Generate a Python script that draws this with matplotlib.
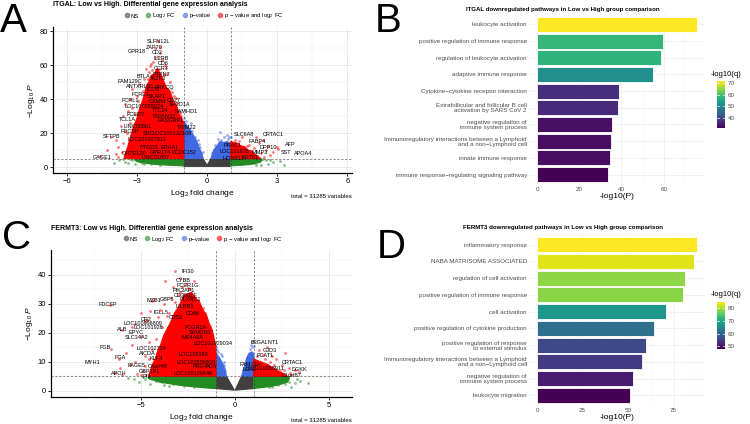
import matplotlib
matplotlib.use('Agg')
import matplotlib.pyplot as plt
from matplotlib.lines import Line2D
from matplotlib.colors import Normalize
from matplotlib.cm import ScalarMappable

plt.rcParams['font.family'] = ['Liberation Sans', 'DejaVu Sans']
plt.rcParams['mathtext.fontset'] = 'custom'
plt.rcParams['mathtext.rm'] = 'Liberation Sans'
plt.rcParams['mathtext.it'] = 'Liberation Sans:italic'
plt.rcParams['mathtext.default'] = 'regular'

NS_COL = '#404040'
FC_COL = '#228B22'
P_COL = '#4169E1'
BOTH_COL = '#FF0000'

# ---------------- ITGAL volcano (A) ----------------
# dense parts of the cloud, outlines (log2FC, -log10P)
itgal_gray = [(-1, 0.4), (1, 0.4), (1, 5), (0.16, 5), (0, 1), (-0.18, 5), (-1, 5)]
itgal_green_left = [(-1, 0.7), (-1.4, 0.9), (-1.8, 1.2), (-2.2, 1.5), (-2.6, 2.2), (-2.8, 2.6),
                    (-3.0, 3.2), (-3.1, 4.1), (-3.1, 5), (-1, 5)]
itgal_green_right = [(1, 0.7), (1.4, 1.0), (1.8, 1.4), (2.1, 2.2), (2.3, 3), (2.35, 4), (2.3, 5), (1, 5)]
itgal_blue_left = [(-1, 5), (-1, 27), (-0.9, 25), (-0.72, 22), (-0.6, 19), (-0.44, 15), (-0.33, 11),
                   (-0.22, 8), (-0.17, 5)]
itgal_blue_right = [(0.16, 5), (0.22, 7.5), (0.28, 10), (0.42, 12.5), (0.56, 15), (0.7, 14.5),
                    (0.85, 15), (1.0, 14), (1.0, 5)]
itgal_red_left = [(-1.0, 5), (-1.0, 26), (-1.1, 29), (-1.2, 31), (-1.3, 36), (-1.45, 39), (-1.6, 45),
                  (-1.75, 47), (-1.9, 52), (-2.0, 55), (-2.15, 58), (-2.25, 55), (-2.4, 54), (-2.5, 50),
                  (-2.6, 48), (-2.7, 42), (-2.8, 38), (-2.9, 34), (-3.0, 29), (-3.15, 24), (-3.3, 17),
                  (-3.4, 12), (-3.55, 6), (-3.55, 5)]
itgal_red_right = [(1.0, 5), (1.0, 15), (1.15, 14.5), (1.3, 14), (1.45, 12.5), (1.6, 12), (1.75, 10),
                   (1.9, 9.5), (2.0, 8), (2.1, 7), (2.3, 5)]

# single points outside the dense parts
itgal_red_pts = [(-2.1, 74), (-2.25, 70), (-2.0, 67), (-2.15, 65), (-1.95, 63), (-2.3, 62), (-1.8, 60),
                 (-2.5, 56), (-2.7, 52), (-2.9, 49), (-3.2, 46), (-3.0, 42), (-3.3, 40), (-3.5, 37),
                 (-3.4, 33), (-3.6, 30), (-3.2, 35), (-3.7, 24), (-3.5, 21), (-3.9, 16), (-4.1, 18),
                 (-3.8, 12), (-3.2, 12), (-3.4, 9), (-3.0, 8), (-4.6, 6.5), (-3.8, 6), (-1.6, 50),
                 (-1.4, 42), (-1.2, 33), (-1.1, 30), (-1.3, 38), (-2.6, 58), (-1.7, 55), (-2.4, 61),
                 (-1.15, 32), (-1.35, 40.5), (-1.5, 44), (-1.85, 54), (-2.05, 57.5), (-2.35, 57),
                 (-2.55, 52), (-2.75, 45), (-2.95, 39), (-3.1, 31), (-3.3, 26), (-3.45, 20),
                 (-3.6, 14), (-3.65, 9), (-3.9, 7.5), (-4.3, 10), (-2.0, 71), (-1.75, 58.5),
                 (-2.45, 59.5),
                 (1.5, 18), (2.1, 17.5), (2.4, 16), (2.2, 14), (2.6, 12.5), (2.5, 10), (3.05, 10.4),
                 (2.83, 8.8), (2.7, 7), (2.3, 8.5), (1.8, 13), (1.2, 16), (3.0, 11.8), (2.0, 11),
                 (1.35, 15.5), (1.7, 12.5), (2.15, 6.5), (2.45, 6)]
itgal_blue_pts = [(-1.0, 29), (-0.9, 27), (-0.7, 26), (-0.85, 22), (-0.5, 18), (-0.4, 16), (-0.3, 12),
                  (0.5, 15), (0.56, 20.6), (0.85, 19), (0.95, 18), (0.4, 12), (0.3, 10), (0.6, 16),
                  (-0.95, 24), (-0.65, 21), (-0.35, 13.5), (-0.2, 9), (0.2, 8), (0.35, 13),
                  (0.45, 16.5), (0.7, 17.5), (0.9, 16.5), (1.0, 18)]
itgal_green_pts = [(-3.76, 3.9), (-3.5, 3), (-3.3, 4.5), (-3.1, 2), (-2.9, 3.5), (-4.0, 2.5), (-2.7, 1.8),
                   (-3.2, 4.2), (-3.4, 2.3), (-2.8, 2.6), (-2.4, 1.6), (-2.0, 1.1), (-3.6, 4.6),
                   (2.5, 4), (2.8, 3), (3.12, 3.4), (2.6, 2), (2.3, 1.5), (3.3, 1),
                   (2.0, 2.2), (2.4, 4.6), (2.7, 4.2), (2.1, 1.2)]

itgal_genes = ['SLFN12L', 'ZAP70', 'GPR18', 'CD2', 'IL2RB', 'CD6', 'CCR7', 'BTLA', 'PTPN7', 'IKZF3',
               'FAM129C', 'ANTXRLP1', 'PRKCQ', 'ICOS', 'FCRL3', 'SKAP1', 'FCRL1', 'GZMM', 'CD27',
               'SH2D1A', 'LOC100288024', 'TTC24', 'SAMHD1', 'FCER2', 'TSPAN32', 'TCL1A', 'RASGRP1',
               'LINC00861', 'TRIM22', 'FDCSP', 'SRC', 'LOC100132108', 'SFTPB', 'LOC101927811',
               'PTGDS', 'EPHA1', 'OR7E12P', 'GAGE1', 'GPR174', 'CCDC152', 'LINC01857',
               'SLC6A8', 'CRTAC1', 'FABP4', 'DPP10', 'AFP', 'SST', 'APOA4', 'PRAC1', 'LOC101928',
               'MMP3', 'HOXB13', 'KRT81']
itgal_gene_fc = [-2.08, -2.26, -3.03, -2.15, -1.98, -1.9, -1.95, -2.75, -1.98, -2.1,
                 -3.32, -2.88, -1.85, -2.3, -2.85, -2.15, -3.29, -2.15, -1.45,
                 -1.17, -2.71, -2.0, -0.87, -3.08, -1.87, -3.43, -1.58,
                 -2.98, -0.87, -3.3, -2.5, -1.51, -4.1, -2.6,
                 -2.5, -1.6, -3.12, -4.5, -2.0, -1.0, -2.2,
                 1.58, 2.82, 2.15, 2.62, 3.55, 3.39, 4.1, 1.08, 1.15,
                 2.26, 1.12, 1.84]
itgal_gene_p = [74, 70.6, 68, 67.3, 64.1, 60.8, 58, 53.5, 54.5, 52,
                50.4, 47.5, 46.7, 45.5, 42.5, 41.5, 39.2, 38.8, 39,
                37, 35.7, 33.3, 33, 31, 30, 28, 27.5,
                24, 23.5, 20.8, 19.6, 19.6, 17.8, 16,
                11.8, 11.8, 7.8, 5.9, 8.5, 8.5, 5.5,
                19.4, 19.2, 15.1, 11.4, 13.4, 8.6, 8.2, 12.7, 8.9,
                8.4, 5.3, 5.9]

# ---------------- FERMT3 volcano (C) ----------------
fermt3_gray_left = [(-1, 0.8), (-0.02, 0.25), (-0.44, 5), (-1, 5)]
fermt3_gray_right = [(1, 0.8), (0.02, 0.25), (0.36, 5), (1, 5)]
fermt3_green_left = [(-1, 0.8), (-1.5, 1.0), (-2.0, 1.3), (-2.5, 1.6), (-3.0, 2.0), (-3.5, 2.5),
                     (-4.0, 3.0), (-4.3, 3.6), (-4.6, 4.2), (-4.6, 5), (-1, 5)]
fermt3_green_right = [(1, 0.8), (1.5, 1.2), (2.0, 1.6), (2.4, 2.2), (2.8, 3.0), (2.9, 4), (2.9, 5), (1, 5)]
fermt3_blue_left = [(-1, 5), (-1, 13), (-0.9, 12.2), (-0.8, 11.3), (-0.65, 9.5), (-0.53, 7.8), (-0.44, 5)]
fermt3_blue_right = [(0.36, 5), (0.45, 7), (0.53, 9), (0.62, 11), (0.71, 12.4), (0.9, 13.5), (1.0, 13),
                     (1.0, 5)]
fermt3_red_left = [(-1.0, 5), (-1.0, 15), (-1.1, 18), (-1.2, 21), (-1.35, 23), (-1.5, 26), (-1.7, 28),
                   (-1.9, 31), (-2.1, 32), (-2.3, 34), (-2.5, 33.5), (-2.7, 33), (-2.85, 31), (-3.0, 29),
                   (-3.2, 27), (-3.4, 24), (-3.6, 21.5), (-3.8, 19), (-3.95, 16), (-4.1, 14),
                   (-4.25, 11), (-4.4, 9), (-4.5, 7), (-4.6, 5)]
fermt3_red_right = [(1.0, 5), (1.0, 11), (1.2, 10.5), (1.4, 10), (1.6, 9.5), (1.8, 9), (2.0, 8),
                    (2.2, 7.5), (2.4, 6.5), (2.6, 6), (2.8, 5)]

fermt3_red_pts = [(-3.2, 41.5), (-2.9, 39), (-2.6, 37), (-2.8, 36), (-2.4, 35), (-3.0, 33), (-2.5, 33),
                  (-3.4, 32), (-4.3, 31.5), (-3.8, 30), (-5.0, 27), (-4.5, 27.5), (-4.0, 28), (-3.6, 26),
                  (-5.5, 22), (-6.0, 21), (-5.3, 23), (-4.8, 24), (-5.0, 19), (-6.6, 14.3), (-5.8, 13),
                  (-6.2, 11), (-5.6, 9), (-6.1, 8), (-5.3, 10), (-4.8, 12), (-5.5, 16), (-4.6, 17),
                  (-4.9, 7), (-5.2, 6), (-6.0, 5.5), (-6.4, 6.2), (-6.67, 29.8), (-2.0, 30), (-1.6, 27),
                  (-1.4, 22), (-1.2, 19), (-1.1, 16), (-3.7, 38), (-4.4, 31), (-4.7, 24.5),
                  (-1.3, 22.5), (-1.7, 28.5), (-2.1, 32.5), (-2.5, 35.5), (-2.9, 34), (-3.2, 30.5),
                  (-3.5, 27), (-3.9, 22), (-4.2, 18), (-4.4, 14), (-4.6, 11), (-4.8, 8.5), (-5.0, 5.5),
                  (-4.1, 25.5), (-3.3, 36), (-2.2, 38),
                  (1.3, 14), (1.5, 12.5), (2.0, 12), (2.7, 13), (2.2, 11), (2.5, 9), (2.9, 8),
                  (3.2, 7.2), (3.0, 5.6), (1.9, 10), (2.4, 7), (1.7, 15), (3.4, 6.5),
                  (1.2, 12), (1.6, 11), (2.1, 9), (2.6, 7.2), (2.95, 6.2)]
fermt3_blue_pts = [(-1.0, 15), (-0.9, 13.5), (-0.7, 12), (-0.8, 10), (-0.55, 9), (-0.5, 7), (0.5, 8),
                   (0.6, 10), (0.75, 13), (0.85, 16), (0.9, 15), (0.95, 12), (0.7, 9), (0.9, 17),
                   (-0.95, 14.2), (-0.75, 12.8), (-0.6, 10), (0.45, 7.3), (0.65, 11.5), (0.8, 14.5),
                   (1.0, 15.5)]
fermt3_green_pts = [(-5.4, 4.2), (-5.1, 3), (-4.8, 4), (-4.5, 2.5), (-4.2, 3.5), (-5.7, 4.6), (-3.8, 2),
                    (-3.5, 1.6), (-4.9, 4.8), (-4.3, 4.5), (-3.9, 3.2), (-3.3, 2.4), (-2.7, 1.8),
                    (-2.2, 1.4),
                    (2.6, 4), (2.9, 3), (3.2, 2.6), (3.9, 2.6), (3.5, 3.5), (2.3, 2),
                    (2.0, 1.5), (3.0, 1.5), (2.2, 4.5), (2.5, 3.3), (2.7, 2.4), (3.3, 4.2), (1.8, 1.2)]

fermt3_genes = ['IFI30', 'CYBB', 'FCER1G', 'PIK3AP1', 'CD300LF', 'MZB1', 'GBP5', 'PLXNC1', 'LILRB1',
                'FDCSP', 'IGLL5', 'CD86', 'CD53', 'CR2', 'LOC100996809', 'LOC101928', 'ALB', 'EPYC',
                'SLC34A2', 'FCGR2A', 'SAMSN1', 'MS4A6A', 'LOC101929034', 'FGB', 'LOC102724',
                'AICDA', 'KLF4', 'LOC105369', 'FGA', 'MYH1', 'PAGE5', 'LOC100506930', 'C4orf48',
                'PRG4', 'ADA', 'APOH', 'GBP1P1', 'LOC100129846', 'PI3',
                'B3GALNT1', 'GJD3', 'PCAT1', 'FAM13A', 'CRTAC1', 'DGKK', 'C1orf87', 'LOC100288911',
                'LCN2']
fermt3_gene_fc = [-2.49, -2.76, -2.49, -2.7, -2.63, -4.32, -3.59, -2.4, -2.67,
                  -6.76, -3.91, -2.26, -3.17, -4.72, -4.89, -4.6, -6.0, -5.25,
                  -5.25, -2.1, -1.85, -2.25, -1.16, -6.89, -4.45,
                  -4.68, -4.18, -2.22, -6.1, -7.6, -5.25, -2.05, -4.1,
                  -1.87, -1.25, -6.19, -4.54, -2.22, -4.7,
                  1.6, 1.87, 1.6, 0.8, 3.06, 3.47, 3.02, 1.6,
                  0.8]
fermt3_gene_p = [41.3, 38.2, 36.2, 34.5, 33, 31.3, 31.5, 31.5, 29.2,
                 29.8, 27, 26.7, 25.3, 24.7, 23.2, 21.8, 21.3, 20.1,
                 18.3, 22, 20, 18.3, 16.3, 14.9, 14.6,
                 12.9, 11.1, 12.5, 11.5, 9.8, 8.8, 9.8, 8.5,
                 8.3, 8.5, 6.1, 6.8, 6.1, 4.8,
                 16.6, 13.8, 12.1, 9.1, 9.8, 7.4, 5.4, 7.7,
                 7.4]

# ---------------- pathway bars (B, D) ----------------
itgal_terms = ['leukocyte activation', 'positive regulation of immune response',
               'regulation of leukocyte activation', 'adaptive immune response',
               'Cytokine\u2212cytokine receptor interaction',
               'Extrafollicular and follicular B cell\nactivation by SARS CoV 2',
               'negative regulation of\nimmune system process',
               'Immunoregulatory interactions between a Lymphoid\nand a non\u2212Lymphoid cell',
               'innate immune response', 'immune response\u2212regulating signaling pathway']
itgal_logp = [75.8, 59.8, 58.9, 54.8, 38.8, 38.2, 35.3, 35.0, 34.7, 33.6]
itgal_logq = [72.0, 58.0, 57.5, 51.4, 36.2, 35.7, 32.5, 32.4, 32.2, 30.8]

fermt3_terms = ['inflammatory response', 'NABA MATRISOME ASSOCIATED', 'regulation of cell activation',
                'positive regulation of immune response', 'cell activation',
                'positive regulation of cytokine production',
                'positive regulation of response\nto external stimulus',
                'Immunoregulatory interactions between a Lymphoid\nand a non\u2212Lymphoid cell',
                'negative regulation of\nimmune system process', 'leukocyte migration']
fermt3_logp = [87.8, 86.4, 81.0, 80.3, 70.7, 64.3, 59.9, 57.5, 52.9, 51.0]
fermt3_logq = [84.4, 82.6, 78.2, 78.0, 67.3, 61.0, 56.0, 54.2, 50.9, 48.0]

W, H = 750, 424
fig = plt.figure(figsize=(7.5, 4.24), dpi=100)


def box(l, t, r, b):
    """pixel box -> figure fraction"""
    return [l / W, 1 - b / H, (r - l) / W, (b - t) / H]


def volcano(rect, polys, pts, genes, gfc, gp, xlim, ylim, xmaj, xmin, ymaj, ymin, title, top_px):
    ax = fig.add_axes(box(*rect))
    cols = [NS_COL, FC_COL, P_COL, BOTH_COL]
    for col, plist in zip(cols, polys):
        for poly in plist:
            xs = [v[0] for v in poly]
            ys = [v[1] for v in poly]
            ax.fill(xs, ys, color=col, lw=0.8, zorder=2)
    for col, plist in zip(cols[1:], pts):
        ax.scatter([v[0] for v in plist], [v[1] for v in plist], s=4, color=col, alpha=0.55,
                   lw=0, zorder=3)
    for g, x, y in zip(genes, gfc, gp):
        ax.text(x, y, g, fontsize=4, ha='center', va='center', zorder=5)
    ax.axvline(-1, color='#333333', ls=(0, (4, 3)), lw=0.4, zorder=4)
    ax.axvline(1, color='#333333', ls=(0, (4, 3)), lw=0.4, zorder=4)
    ax.axhline(5, color='#333333', ls=(0, (4, 3)), lw=0.4, zorder=4)
    ax.set_xlim(*xlim)
    ax.set_ylim(*ylim)
    ax.set_xticks(xmaj)
    ax.set_xticks(xmin, minor=True)
    ax.set_yticks(ymaj)
    ax.set_yticks(ymin, minor=True)
    ax.grid(which='major', color='#E5E5E5', lw=0.5, zorder=0)
    ax.grid(which='minor', color='#F0F0F0', lw=0.3, zorder=0)
    ax.set_axisbelow(True)
    for s in ['top', 'right']:
        ax.spines[s].set_visible(False)
    for s in ['left', 'bottom']:
        ax.spines[s].set_linewidth(0.9)
    ax.tick_params(which='major', length=2, width=0.6, labelsize=5.5, pad=1.5)
    ax.tick_params(which='minor', length=0)
    ax.set_xlabel(r'$Log_{2}$ fold change', fontsize=6, labelpad=2)
    ax.set_ylabel(r'$-Log_{10}\ \mathit{P}$', fontsize=6, labelpad=2)
    fig.text(rect[0] / W, 1 - (top_px + 5) / H, title, fontsize=5, fontweight='bold', va='center')
    handles = [Line2D([], [], marker='o', ls='', color=c, alpha=0.55, markersize=3) for c in cols]
    labels = ['NS', r'Log$_{2}$ FC', 'p\u2212value', r'p $-$ value and log$_{2}$ FC']
    ax.legend(handles, labels, loc='center', ncol=4, frameon=False, fontsize=4.3,
              bbox_to_anchor=(0.503, 1 + 11 / (rect[3] - rect[1])), handletextpad=0.1,
              columnspacing=0.9, borderpad=0, handlelength=1.2)
    fig.text(rect[2] / W, 1 - (rect[3] + 23) / H, 'total = 31285 variables', fontsize=4.3,
             ha='right', va='center')
    return ax


volcano((53, 27, 352, 173),
        [[itgal_gray], [itgal_green_left, itgal_green_right], [itgal_blue_left, itgal_blue_right],
         [itgal_red_left, itgal_red_right]],
        [itgal_green_pts, itgal_blue_pts, itgal_red_pts],
        itgal_genes, itgal_gene_fc, itgal_gene_p,
        (-6.6, 6.2), (-3.5, 82.5), [-6, -3, 0, 3, 6], [-4.5, -1.5, 1.5, 4.5],
        [0, 20, 40, 60, 80], [10, 30, 50, 70],
        'ITGAL: Low vs High. Differential gene expression analysis', 0)

volcano((51, 250, 352, 397),
        [[fermt3_gray_left, fermt3_gray_right], [fermt3_green_left, fermt3_green_right],
         [fermt3_blue_left, fermt3_blue_right], [fermt3_red_left, fermt3_red_right]],
        [fermt3_green_pts, fermt3_blue_pts, fermt3_red_pts],
        fermt3_genes, fermt3_gene_fc, fermt3_gene_p,
        (-9.8, 6.25), (-2.1, 48.6), [-5, 0, 5], [-7.5, -2.5, 2.5],
        [0, 10, 20, 30, 40], [5, 15, 25, 35, 45],
        'FERMT3: Low vs High. Differential gene expression analysis', 223)


def pathway_bars(rect, terms, logp, logq, xlim, xmaj, xmin, cbar_rect, cticks, title, title_y,
                 ctitle_y):
    ax = fig.add_axes(box(*rect))
    n = len(terms)
    ypos = list(range(n - 1, -1, -1))
    norm = Normalize(min(logq), max(logq))
    cmap = plt.get_cmap('viridis')
    ax.barh(ypos, logp, height=0.9, color=cmap(norm(logq)), edgecolor='white', lw=0.6, zorder=2)
    ax.set_yticks(ypos)
    ax.set_yticklabels(terms, fontsize=4.5, color='#4D4D4D', linespacing=1.0)
    ax.set_ylim(-0.6, n - 0.4)
    ax.set_xlim(*xlim)
    ax.set_xticks(xmaj)
    ax.set_xticks(xmin, minor=True)
    ax.grid(which='major', color='#EBEBEB', lw=0.5, zorder=0)
    ax.grid(which='minor', axis='x', color='#F2F2F2', lw=0.3, zorder=0)
    ax.set_axisbelow(True)
    for s in ax.spines.values():
        s.set_visible(False)
    ax.tick_params(which='both', length=0, pad=1.5)
    ax.tick_params(axis='x', labelsize=4.5, labelcolor='#4D4D4D')
    ax.set_xlabel('-log10(P)', fontsize=6, labelpad=1)
    fig.text(563 / W, 1 - title_y / H, title, fontsize=4.4, fontweight='bold', ha='center',
             va='center')
    cax = fig.add_axes(box(*cbar_rect))
    cb = fig.colorbar(ScalarMappable(norm=norm, cmap=cmap), cax=cax)
    cb.outline.set_visible(False)
    cb.set_ticks(cticks)
    cax.tick_params(length=0, labelsize=4.5, labelcolor='#4D4D4D', pad=2)
    for t in cticks:
        cax.plot([0, 0.2], [t, t], color='white', lw=0.5, transform=cax.get_yaxis_transform())
        cax.plot([0.8, 1], [t, t], color='white', lw=0.5, transform=cax.get_yaxis_transform())
    fig.text(711 / W, 1 - ctitle_y / H, '-log10(q)', fontsize=5.5, va='center')


pathway_bars((529, 14.5, 705, 184.5), itgal_terms, itgal_logp, itgal_logq, (-3.8, 79.6),
             [0, 20, 40, 60], [10, 30, 50, 70], (717, 81, 725, 128), [40, 50, 60, 70],
             'ITGAL downregulated pathways in Low vs High group comparison', 9, 74)
pathway_bars((529, 234.5, 705, 405.5), fermt3_terms, fermt3_logp, fermt3_logq, (-4.4, 92.2),
             [0, 25, 50, 75], [12.5, 37.5, 62.5, 87.5], (717, 302, 725, 349), [50, 60, 70, 80],
             'FERMT3 downregulated pathways in Low vs High group comparison', 228, 295)

for letter, x, y in [('A', 0, 32), ('B', 375, 32), ('C', 2, 249), ('D', 377, 258)]:
    fig.text(x / W, 1 - y / H, letter, fontsize=29, va='baseline', ha='left')

fig.savefig('out.png', dpi=100)
